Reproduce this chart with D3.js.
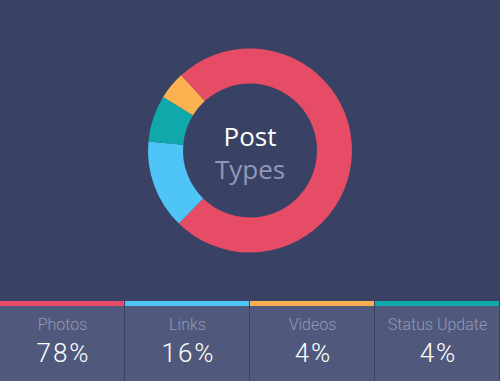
<!DOCTYPE html>
<html>
<head>
<meta charset="utf-8">
<script src="https://cdn.jsdelivr.net/npm/d3@7"></script>
<style>
  html, body { margin: 0; padding: 0; background: #394264; }
  svg { display: block; }
</style>
</head>
<body>
<div id="chart"></div>
<script>
// post types, in clockwise order starting from the red slice
const categories = ['Photos', 'Links', 'Status Update', 'Videos'];
const sliceShares = [74.1, 14.1, 7.4, 4.4]; // arc sizes as drawn in the ring
const colors = ['#e64c65', '#4fc4f6', '#11a8ab', '#fcb150'];

// legend boxes along the bottom
const boxLabels = ['Photos', 'Links', 'Videos', 'Status Update'];
const boxValues = ['78%', '16%', '4%', '4%'];
const boxColors = ['#e64c65', '#4fc4f6', '#fcb150', '#11a8ab'];

const width = 500;
const height = 381;
const cx = 250;
const cy = 150.5;

const svg = d3.select('#chart').append('svg').attr('width', width).attr('height', height);
svg.append('rect').attr('width', width).attr('height', height).attr('fill', '#394264');

const start = (-42.5 * Math.PI) / 180;
const pie = d3
  .pie()
  .sort(null)
  .value((d) => d.value)
  .startAngle(start)
  .endAngle(start + 2 * Math.PI);
const arc = d3.arc().innerRadius(67).outerRadius(102);

const slices = categories.map((c, i) => ({ name: c, value: sliceShares[i], color: colors[i] }));

const ring = svg.append('g').attr('transform', `translate(${cx},${cy})`);
ring
  .selectAll('path')
  .data(pie(slices))
  .enter()
  .append('path')
  .attr('d', arc)
  .attr('fill', (d) => d.data.color);

ring
  .append('text')
  .attr('text-anchor', 'middle')
  .attr('y', -4.5)
  .attr('font-family', '"Open Sans", sans-serif')
  .attr('font-size', 26)
  .attr('fill', '#ffffff')
  .text('Post');
ring
  .append('text')
  .attr('text-anchor', 'middle')
  .attr('y', 28.5)
  .attr('font-family', '"Open Sans", sans-serif')
  .attr('font-size', 26)
  .attr('fill', '#9099b7')
  .text('Types');

const x = d3.scaleBand().domain(boxLabels).range([0, width]);
const boxes = svg
  .append('g')
  .selectAll('g')
  .data(boxLabels)
  .enter()
  .append('g')
  .attr('transform', (d) => `translate(${x(d)},0)`);

boxes
  .append('rect')
  .attr('y', 306)
  .attr('width', x.bandwidth() - 1)
  .attr('height', height - 306)
  .attr('fill', '#50597b');
boxes
  .append('rect')
  .attr('y', 301)
  .attr('width', x.bandwidth() - 1)
  .attr('height', 5)
  .attr('fill', (d, i) => boxColors[i]);
boxes
  .append('text')
  .attr('x', x.bandwidth() / 2)
  .attr('y', 330)
  .attr('text-anchor', 'middle')
  .attr('font-family', 'Roboto, "Liberation Sans", sans-serif')
  .attr('font-weight', 300)
  .attr('font-size', 16)
  .attr('fill', '#9099b7')
  .text((d) => d);
boxes
  .append('text')
  .attr('x', x.bandwidth() / 2 + 1)
  .attr('y', 361.5)
  .attr('text-anchor', 'middle')
  .attr('font-family', 'Roboto, "Liberation Sans", sans-serif')
  .attr('font-weight', 300)
  .attr('font-size', 26)
  .attr('letter-spacing', 2)
  .attr('fill', '#ffffff')
  .text((d, i) => boxValues[i]);
</script>
</body>
</html>
